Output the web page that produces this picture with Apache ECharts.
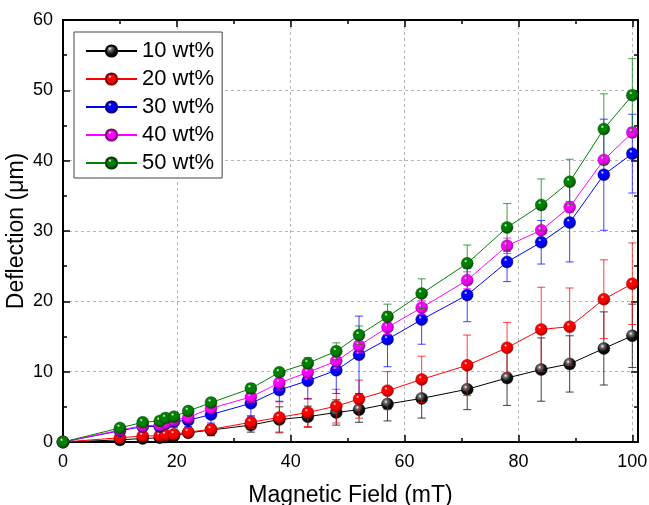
<!DOCTYPE html>
<html>
<head>
<meta charset="utf-8">
<script src="https://cdn.jsdelivr.net/npm/echarts@6/dist/echarts.min.js"></script>
<style>
html,body{margin:0;padding:0;background:#fff;}
#chart{width:649px;height:505px;}
</style>
</head>
<body>
<div id="chart"></div>
<script>
// ---- data ----
const fieldMT = [0, 10, 14, 17, 18, 19.5, 22, 26, 33, 38, 43, 48, 52, 57, 63, 71, 78, 84, 89, 95, 100];

const names = ['10 wt%', '20 wt%', '30 wt%', '40 wt%', '50 wt%'];
const colors = ['#000000', '#ff0000', '#0000ff', '#ff00ff', '#008000'];
const darkColors = ['#000000', '#7a0000', '#00007a', '#7a007a', '#003a00'];

const wt10 = [0, 0.3, 0.5, 0.6, 0.7, 0.9, 1.3, 1.7, 2.4, 3.2, 3.6, 4.2, 4.6, 5.4, 6.2, 7.5, 9.1, 10.3, 11.1, 13.3, 15.1];
const wt20 = [0, 0.6, 0.85, 0.9, 1.0, 1.1, 1.4, 1.8, 2.8, 3.5, 4.2, 5.1, 6.1, 7.3, 8.9, 10.9, 13.4, 16.0, 16.4, 20.3, 22.5];
const wt30 = [0, 1.6, 2.2, 2.2, 2.6, 2.9, 3.1, 3.9, 5.5, 7.4, 8.7, 10.2, 12.4, 14.6, 17.4, 20.9, 25.6, 28.4, 31.2, 38.0, 41.0];
const wt40 = [0, 1.7, 2.3, 2.4, 2.7, 3.1, 3.5, 4.8, 6.4, 8.4, 9.9, 11.5, 13.7, 16.3, 19.1, 23.0, 27.9, 30.1, 33.4, 40.1, 44.0];
const wt50 = [0, 2.0, 2.8, 3.0, 3.4, 3.6, 4.4, 5.6, 7.6, 9.9, 11.2, 12.9, 15.2, 17.8, 21.1, 25.4, 30.5, 33.7, 37.0, 44.5, 49.3];

const err10 = [0, 0.3, 0.4, 0.4, 0.5, 0.5, 0.6, 0.8, 1.0, 1.8, 1.5, 1.8, 1.8, 2.4, 2.8, 2.9, 3.9, 4.5, 4.0, 5.2, 4.5];
const err20 = [0, 0.3, 0.4, 0.4, 0.4, 0.4, 0.5, 0.6, 0.9, 2.2, 2.0, 2.4, 2.7, 2.7, 3.3, 4.3, 3.6, 6.0, 5.5, 5.6, 5.8];
const err30 = [0, 0.4, 0.5, 0.6, 0.7, 0.8, 0.9, 1.2, 1.8, 1.6, 2.6, 3.3, 5.5, 3.9, 3.5, 3.8, 2.8, 3.1, 5.6, 7.9, 5.6];
const err40 = [0, 0.3, 0.3, 0.3, 0.4, 0.4, 0.4, 0.5, 0.8, 1.0, 0.9, 1.0, 1.0, 1.0, 1.0, 1.2, 1.1, 0.5, 0.8, 0.5, 0.7];
const err50 = [0, 0.6, 0.6, 0.6, 0.6, 0.6, 0.5, 0.5, 0.7, 0.6, 0.8, 1.2, 1.3, 1.8, 2.1, 2.6, 3.4, 3.7, 3.2, 5.0, 5.2];

const xTicks = [0, 20, 40, 60, 80, 100];
const yTicks = [0, 10, 20, 30, 40, 50, 60];

const values = [wt10, wt20, wt30, wt40, wt50];
const errors = [err10, err20, err30, err40, err50];

// ---- chart ----
const FONT = '"Liberation Sans", Arial, sans-serif';

function sphere(i) {
  return new echarts.graphic.RadialGradient(0.38, 0.32, 0.75, [
    { offset: 0, color: '#ffffff' },
    { offset: 0.18, color: colors[i] === '#000000' ? '#777777' : colors[i] },
    { offset: 0.55, color: colors[i] === '#000000' ? '#111111' : colors[i] },
    { offset: 1, color: darkColors[i] }
  ]);
}

function makeErrRender(color) {
  return function (params, api) {
    const x = api.value(0), y = api.value(1), e = api.value(2);
    if (!e) return null;
    const top = api.coord([x, y + e]);
    const bot = api.coord([x, Math.max(y - e, 0)]);
    const hw = 4;
    const st = { stroke: color, lineWidth: 1, opacity: 0.75 };
    return {
      type: 'group',
      children: [
        { type: 'line', shape: { x1: top[0], y1: top[1], x2: bot[0], y2: bot[1] }, style: st },
        { type: 'line', shape: { x1: top[0] - hw, y1: top[1], x2: top[0] + hw, y2: top[1] }, style: st },
        { type: 'line', shape: { x1: bot[0] - hw, y1: bot[1], x2: bot[0] + hw, y2: bot[1] }, style: st }
      ]
    };
  };
}

const series = [];
names.forEach((nm, i) => {
  series.push({
    name: nm + ' err',
    type: 'custom',
    xAxisIndex: 0, yAxisIndex: 0,
    renderItem: makeErrRender(colors[i]),
    encode: { x: 0, y: 1 },
    data: fieldMT.map((x, k) => [x, values[i][k], errors[i][k]]),
    z: 2 + i * 2,
    silent: true
  });
  series.push({
    name: nm,
    type: 'line',
    xAxisIndex: 0, yAxisIndex: 0,
    data: fieldMT.map((x, k) => [x, values[i][k]]),
    symbol: 'circle',
    symbolSize: 12,
    showAllSymbol: true,
    lineStyle: { color: colors[i], width: 1 },
    itemStyle: { color: sphere(i), borderColor: darkColors[i], borderWidth: 0.4 },
    z: 3 + i * 2,
    animation: false
  });
});

const chart = echarts.init(document.getElementById('chart'), null, { renderer: 'canvas' });

const axisCommon = {
  axisLine: { show: true, onZero: false, lineStyle: { color: '#000', width: 2 } },
  axisTick: { show: true, inside: true, length: 7, lineStyle: { color: '#000', width: 1.5 } },
  minorTick: { show: true, splitNumber: 2, length: 4, lineStyle: { color: '#000', width: 1.5 } }
};

chart.setOption({
  animation: false,
  backgroundColor: '#ffffff',
  textStyle: { fontFamily: FONT },
  grid: { left: 63, right: 11, top: 20, bottom: 63, containLabel: false, outerBoundsMode: 'none' },
  legend: {
    data: names,
    orient: 'vertical',
    left: 74,
    top: 32,
    itemWidth: 51,
    itemHeight: 14,
    itemGap: 6,
    padding: [8, 8, 4, 11],
    borderColor: '#444',
    borderWidth: 1,
    backgroundColor: '#fff',
    textStyle: { fontSize: 22, color: '#000', fontFamily: FONT },
    selectedMode: false
  },
  xAxis: [
    Object.assign({
      type: 'value', min: 0, max: 101, interval: 20,
      name: 'Magnetic Field (mT)',
      nameLocation: 'middle', nameGap: 42, nameMoveOverlap: false,
      nameTextStyle: { fontSize: 23, color: '#000', fontFamily: FONT },
      axisLabel: {
        fontSize: 18, color: '#000', margin: 11, fontFamily: FONT,
        formatter: v => (xTicks.indexOf(v) >= 0 ? String(v) : '')
      },
      splitLine: { show: true, lineStyle: { color: '#b5b5b5', type: [3, 3], width: 1 } }
    }, axisCommon),
    Object.assign({
      type: 'value', min: 0, max: 101, interval: 20, position: 'top',
      axisLabel: { show: false }, splitLine: { show: false }
    }, axisCommon)
  ],
  yAxis: [
    Object.assign({
      type: 'value', min: 0, max: 60, interval: 10,
      name: 'Deflection (μm)',
      nameLocation: 'middle', nameGap: 35, nameMoveOverlap: false,
      nameTextStyle: { fontSize: 23, color: '#000', fontFamily: FONT },
      axisLabel: {
        fontSize: 18, color: '#000', margin: 10, fontFamily: FONT,
        formatter: v => (yTicks.indexOf(v) >= 0 ? String(v) : '')
      },
      splitLine: { show: true, lineStyle: { color: '#b5b5b5', type: [3, 3], width: 1 } }
    }, axisCommon),
    Object.assign({
      type: 'value', min: 0, max: 60, interval: 10, position: 'right',
      axisLabel: { show: false }, splitLine: { show: false }
    }, axisCommon)
  ],
  series: series
});
</script>
</body>
</html>
